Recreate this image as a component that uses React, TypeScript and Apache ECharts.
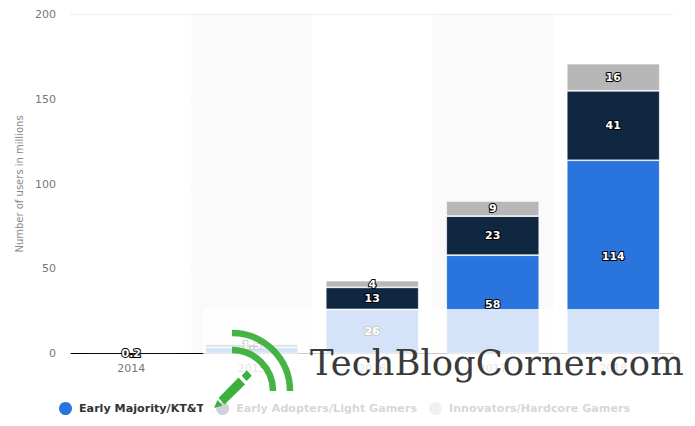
import React, { useEffect, useRef } from "react";
import * as echarts from "echarts";

const years = ["2014", "2015", "2016", "2017", "2018"];
const earlyMajority = [0, 3.7, 26, 58, 114];
const earlyAdopters = [0.2, 1.5, 13, 23, 41];
const innovators = [0, 0.3, 4, 9, 16];
const seriesNames = ["Early Majority/KT&T", "Early Adopters/Light Gamers", "Innovators/Hardcore Gamers"];
const colors = ["#2a75dd", "#0f2740", "#b7b7b7"];
const hiddenLabelBelow = [5, 0.1, 1];
const FONT = "'DejaVu Sans', sans-serif";

export default function App() {
  const ref = useRef<HTMLDivElement>(null);
  useEffect(() => {
    document.body.style.margin = "0";
    const chart = echarts.init(ref.current!, null, { renderer: "svg" });
    const data = [earlyMajority, earlyAdopters, innovators];
    const green = "#3bb03b";
    chart.setOption({
      animation: false,
      grid: { left: 71, right: 21.5, top: 14.5, bottom: 72.5 },
      legend: {
        left: 54, top: 397, icon: "circle", itemWidth: 17, itemHeight: 13, itemGap: 12,
        selectedMode: false,
        textStyle: { fontFamily: FONT, fontSize: 11.15, fontWeight: "bold", color: "#333" },
        data: seriesNames,
      },
      xAxis: {
        type: "category", data: years,
        axisLine: { lineStyle: { color: "#000", width: 1 } },
        axisTick: { show: false },
        axisLabel: { fontFamily: FONT, fontSize: 11, color: "#777", margin: 9 },
        splitArea: { show: true, areaStyle: { color: ["#ffffff", "#fafafa"] } },
      },
      yAxis: {
        type: "value", min: 0, max: 200, interval: 50,
        name: "Number of users in millions", nameLocation: "middle", nameGap: 45, nameRotate: 90,
        nameTextStyle: { fontFamily: FONT, fontSize: 10, color: "#888" },
        axisLine: { show: false }, axisTick: { show: false },
        axisLabel: { fontFamily: FONT, fontSize: 11, color: "#777", margin: 15 },
        splitLine: { lineStyle: { color: "#c4c4c4", type: "dotted", width: 1 } },
      },
      series: seriesNames.map((name, i) => ({
        name, type: "bar", stack: "users", barWidth: 93,
        itemStyle: { color: colors[i] },
        data: data[i].map((v) => ({
          value: v,
          itemStyle: { borderColor: "#fff", borderWidth: v < 1 ? 0 : 0.7 },
        })),
        label: {
          show: true, position: "inside", fontFamily: FONT, fontSize: 11, fontWeight: "bold",
          color: "#fff", textBorderColor: "#000", textBorderWidth: 2,
          formatter: (p: any) => (p.value >= hiddenLabelBelow[i] ? String(p.value) : ""),
        },
      })),
      graphic: [
        { type: "rect", z: 100, shape: { x: 203, y: 309, width: 492, height: 117 }, style: { fill: "rgba(255,255,255,0.8)" } },
        { type: "arc", z: 101, shape: { cx: 232, cy: 391, r: 58, startAngle: -Math.PI / 2, endAngle: 0, clockwise: true }, style: { stroke: green, fill: "none", lineWidth: 6.5, opacity: 0.95 } },
        { type: "arc", z: 101, shape: { cx: 232, cy: 391, r: 41, startAngle: -Math.PI / 2, endAngle: 0, clockwise: true }, style: { stroke: green, fill: "none", lineWidth: 6.5, opacity: 0.95 } },
        { type: "polygon", z: 101, shape: { points: [[218.5, 398], [224.5, 404.5], [245, 384.5], [238.5, 377.5]] }, style: { fill: green } },
        { type: "polygon", z: 101, shape: { points: [[241.7, 375.7], [246.7, 370.3], [251.7, 375.7], [246.7, 381]] }, style: { fill: green } },
        { type: "polygon", z: 101, shape: { points: [[214, 408], [217.5, 400], [222.5, 405.5]] }, style: { fill: green } },
        { type: "text", z: 102, x: 310, y: 345, style: { text: "TechBlogCorner.com", fontFamily: "'DejaVu Serif', serif", fontSize: 35.4, fill: "#3a3a3a" } },
      ],
    });
    return () => chart.dispose();
  }, []);
  return <div ref={ref} style={{ width: 695, height: 426 }} />;
}
